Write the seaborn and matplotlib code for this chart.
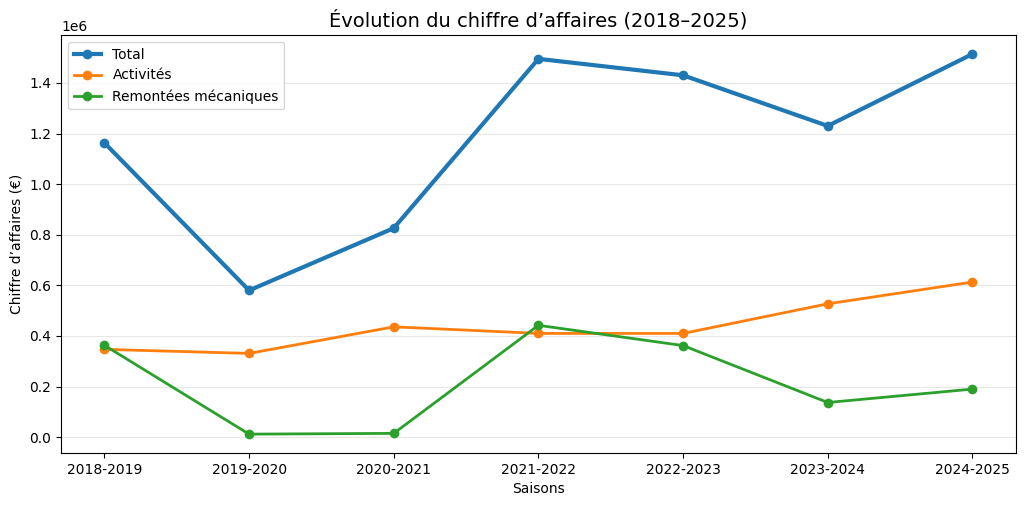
import pandas as pd
import seaborn as sns
import matplotlib.pyplot as plt

# Données
saisons = ['2018-2019', '2019-2020', '2020-2021', '2021-2022', '2022-2023', '2023-2024', '2024-2025']
total = [1163000, 580000, 826000, 1495000, 1430000, 1230000, 1514000]
activites = [347000, 331000, 436000, 410000, 410000, 527000, 613000]
remontees = [363000, 12000, 15000, 442000, 362000, 137000, 190000]

df = pd.DataFrame({
    'Saison': saisons,
    'Total': total,
    'Activités': activites,
    'Remontées mécaniques': remontees,
})

fig, ax = plt.subplots(figsize=(10.24, 5.08), dpi=100)

sns.lineplot(data=df, x='Saison', y='Total', marker='o', markersize=7,
             linewidth=3, color='#1f77b4', markeredgewidth=0, label='Total', ax=ax)
sns.lineplot(data=df, x='Saison', y='Activités', marker='o', markersize=7,
             linewidth=2, color='#ff7f0e', markeredgewidth=0, label='Activités', ax=ax)
sns.lineplot(data=df, x='Saison', y='Remontées mécaniques', marker='o', markersize=7,
             linewidth=2, color='#2ca02c', markeredgewidth=0, label='Remontées mécaniques', ax=ax)

ax.set_title("Évolution du chiffre d’affaires (2018–2025)", fontsize=14)
ax.set_xlabel('Saisons')
ax.set_ylabel('Chiffre d’affaires (€)')
ax.grid(axis='y', alpha=0.3)
ax.legend(loc='upper left', fontsize=10)

plt.subplots_adjust(left=0.0596, right=0.992, top=0.931, bottom=0.108)
plt.savefig('out.png', dpi=100)
